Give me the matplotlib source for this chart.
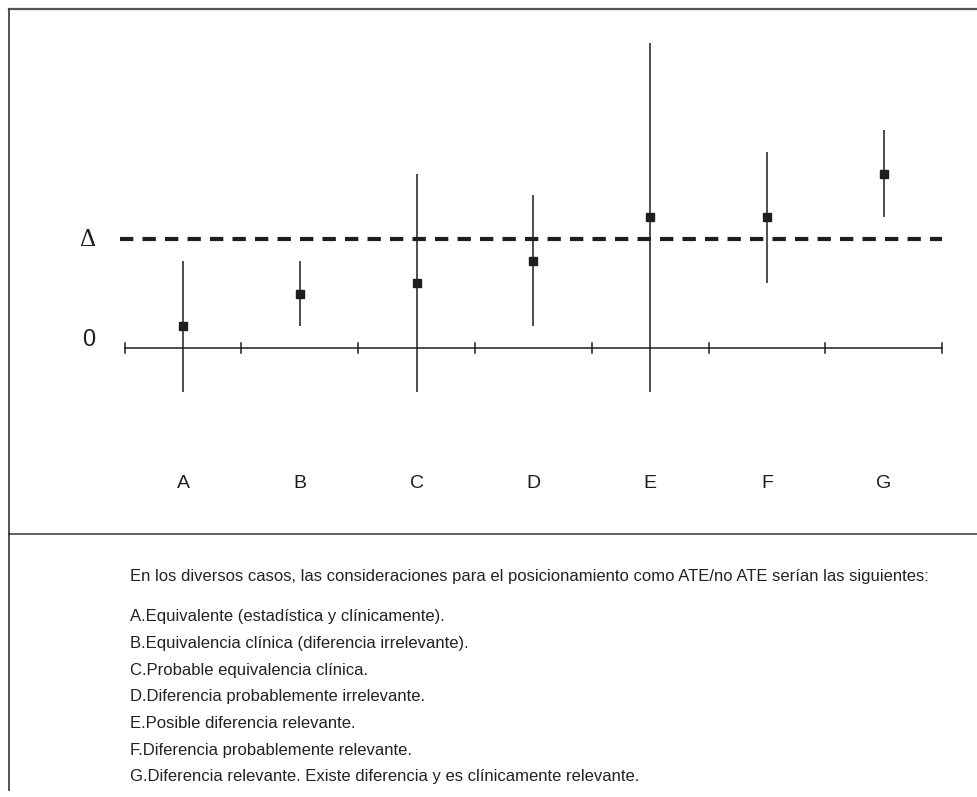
"""
Equivalence-margin diagram: confidence intervals for cases A-G against
the zero line and the clinical relevance threshold (Delta).
"""

import numpy as np
import matplotlib
matplotlib.use("Agg")
import matplotlib.pyplot as plt
from matplotlib.lines import Line2D

categories = ["A", "B", "C", "D", "E", "F", "G"]
estimate = [1, 2.5, 3, 4, 6, 6, 8]
lower = [-2, 1, -2, 1, -2, 3, 6]
upper = [4, 4, 8, 7, 14, 9, 10]
delta = 5

intro = ("En los diversos casos, las consideraciones para el posicionamiento "
         "como ATE/no ATE serían las siguientes:")
notes = [
    "A.Equivalente (estadística y clínicamente).",
    "B.Equivalencia clínica (diferencia irrelevante).",
    "C.Probable equivalencia clínica.",
    "D.Diferencia probablemente irrelevante.",
    "E.Posible diferencia relevante.",
    "F.Diferencia probablemente relevante.",
    "G.Diferencia relevante. Existe diferencia y es clínicamente relevante.",
]

W, H = 978, 797
fig = plt.figure(figsize=(W / 100, H / 100), dpi=100)
plt.rcParams["font.family"] = ["Liberation Sans", "DejaVu Sans"]

# axes over the whole figure, scaled so one unit ~ 21.8 px vertically
ax = fig.add_axes([0, 0, 1, 1])
ax.set_xlim(-183 / 116.8, (W - 183) / 116.8)
ax.set_ylim((348 - H) / 21.8, 348 / 21.8)
ax.axis("off")

ink = "#1e1e1e"
x = np.arange(len(categories))
est = np.array(estimate)
yerr = [est - np.array(lower), np.array(upper) - est]

# zero axis with ticks between cases
ax.plot([-0.5, len(categories) - 0.5], [0, 0], color=ink, lw=1.1)
for t in np.arange(len(categories) + 1) - 0.5:
    ax.plot([t, t], [-0.25, 0.25], color=ink, lw=1.1)

# relevance threshold
ax.plot([-0.54, len(categories) - 0.5], [delta, delta], color=ink, lw=3,
        ls=(0, (3.2, 2.2)), solid_capstyle="butt", dash_capstyle="butt")

ax.errorbar(x, est, yerr=yerr, fmt="s", color=ink, ms=5.8, elinewidth=1.1,
            capsize=0)

ax.text(-0.81, delta - 0.05, "Δ", fontsize=18, ha="center", va="center",
        color=ink, family=["Liberation Serif", "DejaVu Serif"])
ax.text(-0.81, 0.35, "0", fontsize=17, ha="center", va="center", color=ink)

for xi, c in zip(x, categories):
    ax.text(xi, -6.2, c, fontsize=14, ha="center", va="center", color=ink)

# frame lines (pixel positions converted to figure fraction)
def px_line(x0, y0, x1, y1, color, lw):
    fig.add_artist(Line2D([x0 / W, x1 / W], [1 - y0 / H, 1 - y1 / H],
                          color=color, lw=lw, transform=fig.transFigure))

px_line(8.5, 8.5, 977, 8.5, "#555555", 1.6)
px_line(8.5, 8.5, 8.5, 790, "#444444", 1.3)
px_line(8.5, 533.5, 977, 533.5, "#333333", 1.1)

fig.text(130 / W, 1 - 576 / H, intro, fontsize=12, va="center", color="#222222")
for i, line in enumerate(notes):
    fig.text(130 / W, 1 - (617 + 26.6 * i) / H, line, fontsize=12,
             va="center", color="#222222")

fig.savefig("out.png", dpi=100)
